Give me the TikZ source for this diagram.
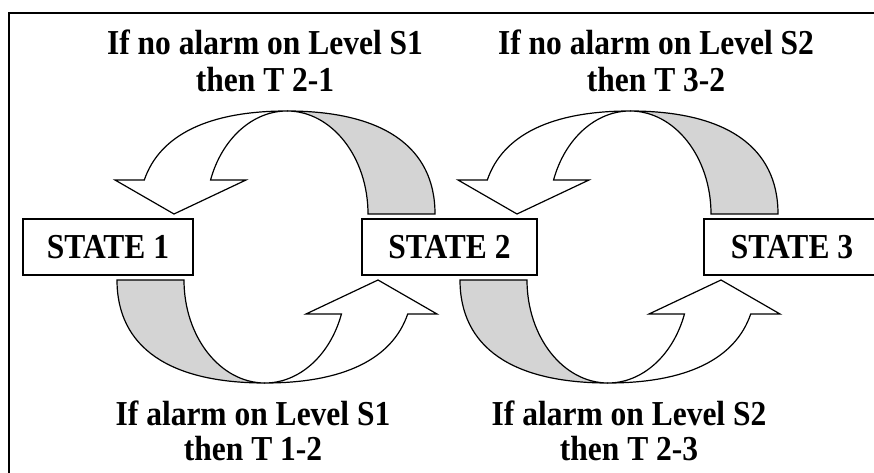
\documentclass[tikz,border=0pt]{standalone}
\usepackage{fontspec}
\setmainfont{Liberation Serif}[FakeStretch=0.9]

\newcommand{\turnarrow}[3]{%
  \begin{scope}[shift={(#1,#2)},rotate=#3]
    \filldraw[fill=black!17] (148,0)
      .. controls (148,66.95) and (96.2,103) .. (0,103)
      arc[start angle=90,end angle=0,x radius=81,y radius=103] -- cycle;
    \filldraw[fill=white] (0,103)
      .. controls (-78.4,103) and (-127.3,79.1) .. (-142.7,34)
      -- (-172,34) -- (-113,0) -- (-41,34) -- (-76.45,34)
      arc[start angle=160.73,end angle=90,x radius=81,y radius=103] -- cycle;
  \end{scope}}

\tikzset{
  statebox/.style={draw,line width=1.3pt,minimum height=56pt,inner sep=0pt,
    font=\bfseries\fontsize{35}{35}\selectfont},
  rulelabel/.style={align=center,inner sep=0pt,anchor=north,
    font=\bfseries\fontsize{35}{#1}\selectfont}
}

\begin{document}
\begin{tikzpicture}[x=1pt,y=1pt,line width=1.2pt,line join=miter]
   \clip (0,0) rectangle (874,473);
   \draw[line width=2.5pt] (9,-20) -- (9,460) -- (900,460);
   \turnarrow{287}{259}{0}
   \turnarrow{630}{259}{0}
   \turnarrow{265}{193}{180}
   \turnarrow{608}{193}{180}
   \node[statebox,minimum width=170pt] (s1) at (108,226)   {STATE 1};
   \node[statebox,minimum width=175pt] (s2) at (449.5,226) {STATE 2};
   \node[statebox,minimum width=176pt] (s3) at (792,226)   {STATE 3};
   \node[rulelabel=37] (t21) at (265,444) {If no alarm on Level S1\\then T 2-1};
   \node[rulelabel=37] (t32) at (656,444) {If no alarm on Level S2\\then T 3-2};
   \node[rulelabel=35] (t12) at (253,73)  {If alarm on Level S1\\then T 1-2};
   \node[rulelabel=35] (t23) at (629,73)  {If alarm on Level S2\\then T 2-3};
\end{tikzpicture}
\end{document}
